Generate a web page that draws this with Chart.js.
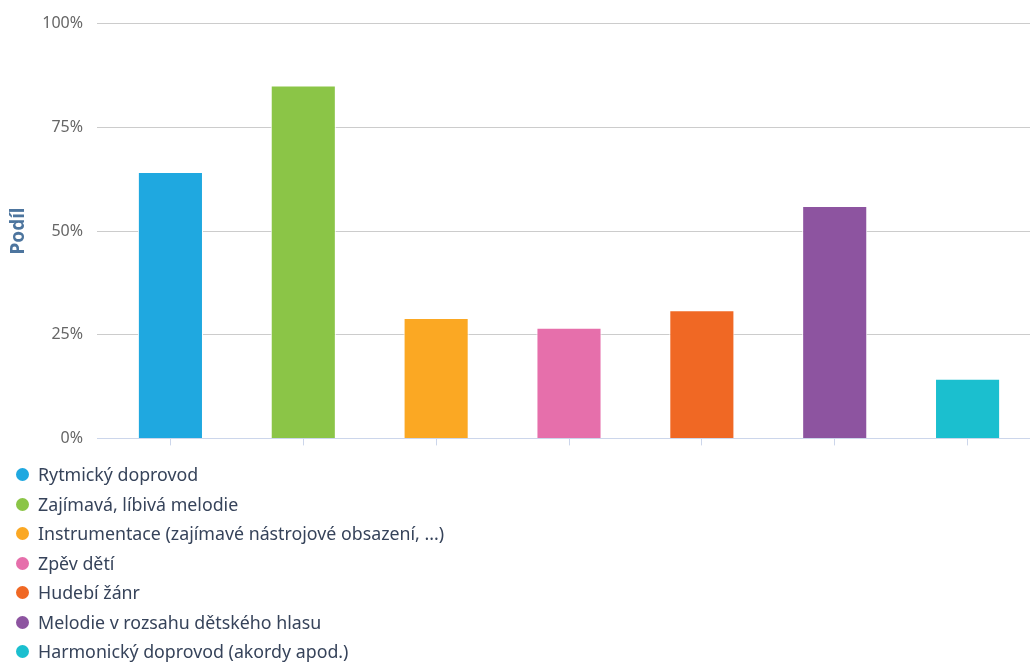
<!DOCTYPE html>
<html>
<head>
<meta charset="utf-8">
<script src="https://cdn.jsdelivr.net/npm/chart.js@4.4.1/dist/chart.umd.min.js"></script>
<style>
  html, body { margin: 0; padding: 0; background: #fff; overflow: hidden; width: 1030px; height: 662px; }
  #wrap { position: absolute; left: 0; top: 0; width: 1036px; height: 462px; }
  #legend { position: absolute; left: 0; top: 0; width: 1030px; height: 662px; pointer-events: none; }
  .item { position: absolute; left: 0; height: 30px; line-height: 30px; font-family: "Noto Sans", sans-serif; font-size: 17.8px; color: #36435a; white-space: nowrap; }
  .dot { position: absolute; left: 16px; top: 9px; width: 13px; height: 13px; border-radius: 50%; }
  .txt { position: absolute; left: 38px; top: 0; }
</style>
</head>
<body>
<div id="wrap"><canvas id="c" width="1036" height="462"></canvas></div>
<div id="legend"></div>
<script>
const categories = [
  "Rytmický doprovod",
  "Zajímavá, líbivá melodie",
  "Instrumentace (zajímavé nástrojové obsazení, ...)",
  "Zpěv dětí",
  "Hudebí žánr",
  "Melodie v rozsahu dětského hlasu",
  "Harmonický doprovod (akordy apod.)"
];
const shares = [64.2, 85.1, 29.0, 26.7, 30.9, 56.0, 14.4];
const colors = ["#1fa8e0", "#8bc547", "#fba823", "#e66fab", "#f06824", "#8d54a0", "#1bbfcf"];
const yTicks = [0, 25, 50, 75, 100];
const yTitle = "Podíl";

const chart = new Chart(document.getElementById('c'), {
  type: 'bar',
  data: {
    labels: categories,
    datasets: [{
      label: yTitle,
      data: shares,
      backgroundColor: colors,
      borderColor: '#ffffff',
      borderWidth: 1,
      categoryPercentage: 1,
      barPercentage: 0.49
    }]
  },
  options: {
    responsive: false,
    animation: false,
    layout: { padding: { top: 22, right: 2, bottom: 0, left: 0 } },
    plugins: { legend: { display: false }, tooltip: { enabled: false } },
    scales: {
      x: {
        offset: true,
        border: { display: true, color: '#ccd6eb', width: 1 },
        grid: { offset: false, drawOnChartArea: false, drawTicks: true, tickLength: 7, color: '#ccd6eb' },
        ticks: { display: false },
        afterFit: s => { s.height = 12; }
      },
      y: {
        min: 0, max: 100,
        border: { display: false },
        grid: {
          color: ctx => (ctx.tick && ctx.tick.value === 0) ? '#ccd6eb' : '#cccccc',
          drawTicks: true, tickLength: 7
        },
        afterBuildTicks: s => { s.ticks = yTicks.map(v => ({ value: v })); },
        ticks: {
          padding: 14,
          color: '#666666',
          font: { family: '"Noto Sans", sans-serif', size: 16 },
          callback: v => v + '%'
        },
        title: {
          display: true,
          text: yTitle,
          color: '#4d759e',
          font: { family: '"Noto Sans", sans-serif', size: 19, weight: 'bold' },
          padding: { top: 7, bottom: 0 }
        },
        afterFit: s => { s.width = 104; }
      }
    }
  }
});

const legend = document.getElementById('legend');
categories.forEach((name, i) => {
  const row = document.createElement('div');
  row.className = 'item';
  row.style.top = (459 + i * 29.5) + 'px';
  const dot = document.createElement('span');
  dot.className = 'dot';
  dot.style.background = colors[i];
  const t = document.createElement('span');
  t.className = 'txt';
  t.textContent = name;
  row.appendChild(dot);
  row.appendChild(t);
  legend.appendChild(row);
});
</script>
</body>
</html>
